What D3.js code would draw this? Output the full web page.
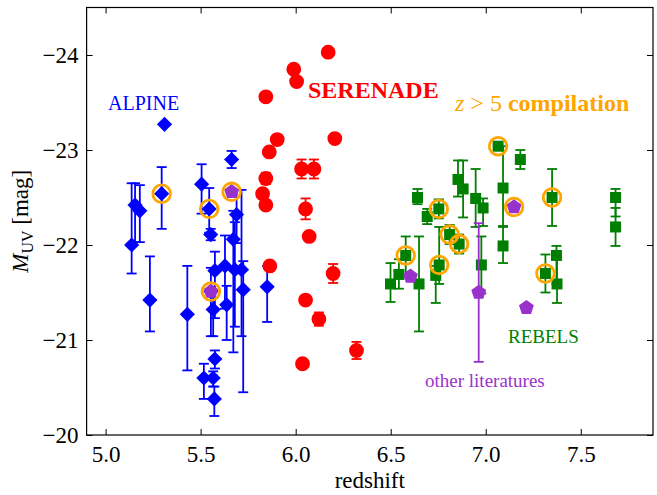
<!DOCTYPE html>
<html>
<head>
<meta charset="utf-8">
<script src="https://cdn.jsdelivr.net/npm/d3@7"></script>
<style>
  body { margin: 0; background: #fff; }
  text { font-family: "Liberation Serif", "Times New Roman", serif; }
</style>
</head>
<body>
<svg id="chart" width="657" height="495"></svg>
<script>
// [redshift, M_UV, error towards bright, error towards faint]
const alpine = [
  [5.137, -22.00, 0.65, 0.30], [5.155, -22.42, 0.23, 0.39], [5.180, -22.36, 0.27, 0.33],
  [5.233, -21.42, 0.46, 0.33], [5.310, -23.27, 0, 0], [5.295, -22.54, 0.28, 0.37],
  [5.430, -21.27, 0.51, 0.59], [5.505, -22.64, 0.21, 0.31], [5.545, -22.38, 0.22, 0.25],
  [5.553, -22.11, 0.06, 0.06], [5.517, -20.60, 0.15, 0.22], [5.566, -20.60, 0.07, 0.09],
  [5.572, -20.38, 0.13, 0.18], [5.575, -20.80, 0.09, 0.10], [5.554, -21.51, 0.25, 0.47],
  [5.566, -21.32, 0.20, 0.28], [5.575, -21.73, 0.20, 0.50], [5.628, -21.78, 0.32, 0.45],
  [5.637, -21.37, 0.20, 0.37], [5.663, -22.90, 0.09, 0.09], [5.689, -22.32, 0.26, 0.30],
  [5.672, -22.06, 0.30, 1.19], [5.680, -21.74, 0.50, 0.60], [5.715, -21.74, 0.84, 0.70],
  [5.724, -21.53, 0.30, 1.08], [5.850, -21.56, 0.22, 0.37]
]
const serenade = [
  [6.171, -24.03, 0, 0], [5.990, -23.85, 0, 0], [6.005, -23.72, 0, 0], [5.843, -23.56, 0, 0],
  [5.903, -23.11, 0.05, 0.05], [6.206, -23.12, 0, 0], [5.861, -22.98, 0, 0],
  [5.843, -22.70, 0.06, 0.06], [5.826, -22.54, 0, 0], [5.843, -22.42, 0, 0],
  [6.031, -22.80, 0.10, 0.10], [6.096, -22.80, 0.10, 0.10], [6.052, -22.38, 0.11, 0.11],
  [6.071, -22.09, 0, 0], [5.864, -21.78, 0, 0], [6.197, -21.70, 0.10, 0.10],
  [6.052, -21.42, 0, 0], [6.122, -21.22, 0.07, 0.07], [6.320, -20.89, 0.09, 0.09],
  [6.036, -20.75, 0, 0]
]
const rebels = [
  [6.499, -21.59, 0.22, 0.19], [6.543, -21.69, 0.16, 0.15], [6.579, -21.89, 0.20, 0.20],
  [6.641, -22.50, 0.09, 0.07], [6.649, -21.59, 0.50, 0.50], [6.692, -22.30, 0.08, 0.08],
  [6.753, -22.38, 0.10, 0.10], [6.755, -21.79, 0.40, 0.20], [6.737, -21.68, 0.10, 0.29],
  [6.810, -22.11, 0.10, 0.10], [6.860, -22.01, 0.10, 0.10], [6.854, -22.69, 0.20, 0.18],
  [6.881, -22.59, 0.30, 0.30], [6.947, -22.49, 0.31, 0.30], [6.986, -22.39, 0.10, 0.19],
  [6.977, -21.79, 0.30, 0.30], [7.065, -23.04, 0, 0], [7.091, -22.60, 0.44, 0.40],
  [7.091, -21.99, 0.20, 0.18], [7.182, -22.90, 0.10, 0.10], [7.349, -22.50, 0.30, 0.30],
  [7.314, -21.70, 0.20, 0.20], [7.372, -21.89, 0.10, 0.30], [7.375, -21.59, 0.30, 0.20],
  [7.683, -22.50, 0.09, 0.20], [7.683, -22.19, 0.20, 0.20]
]
const literature = [
  [5.663, -22.56, 0, 0], [5.554, -21.51, 0, 0], [6.604, -21.67, 0, 0],
  [6.963, -21.50, 0.73, 0.73], [7.149, -22.40, 0, 0], [7.214, -21.34, 0, 0]
]
// [redshift, M_UV] of the z > 5 compilation sources
const compilation = [
  [5.295, -22.54], [5.545, -22.38], [5.663, -22.56], [5.554, -21.51], [6.579, -21.89],
  [6.753, -22.38], [6.755, -21.79], [6.810, -22.11], [6.860, -22.01], [7.065, -23.04],
  [7.149, -22.40], [7.349, -22.50], [7.314, -21.70]
]
const xTicks = [5.0, 5.5, 6.0, 6.5, 7.0, 7.5]
const yTicks = [-24, -23, -22, -21, -20]

const margin = { top: 7.5, right: 4, bottom: 60, left: 86.6 }
const width = 657 - margin.left - margin.right
const height = 495 - margin.top - margin.bottom

const svg = d3.select('#chart')
const g = svg.append('g').attr('transform', `translate(${margin.left},${margin.top})`)

const x = d3.scaleLinear().domain([4.9, 7.88]).range([0, width])
const y = d3.scaleLinear().domain([-20, -24.5]).range([height, 0])

const fmtY = (d) => String(d).replace('-', '\u2212')

// axes, ticks pointing inward on all four sides
const styleAxis = (sel) => {
  sel.select('.domain').remove()
  sel.selectAll('.tick line').attr('stroke', '#000').attr('stroke-width', 1)
  sel.selectAll('.tick text').attr('fill', '#000').style('font-size', '23px')
    .style('font-family', '"Liberation Serif", serif')
}
g.append('g').attr('transform', `translate(0,${height})`)
  .call(d3.axisBottom(x).tickValues(xTicks).tickFormat(d3.format('.1f')).tickSizeInner(-6).tickSizeOuter(0).tickPadding(11))
  .call(styleAxis)
g.append('g')
  .call(d3.axisTop(x).tickValues(xTicks).tickFormat('').tickSizeInner(-6).tickSizeOuter(0))
  .call(styleAxis)
g.append('g')
  .call(d3.axisLeft(y).tickValues(yTicks).tickFormat(fmtY).tickSizeInner(-6).tickSizeOuter(0).tickPadding(8))
  .call(styleAxis)
g.append('g').attr('transform', `translate(${width},0)`)
  .call(d3.axisRight(y).tickValues(yTicks).tickFormat('').tickSizeInner(-6).tickSizeOuter(0))
  .call(styleAxis)
g.append('rect').attr('width', width).attr('height', height)
  .attr('fill', 'none').attr('stroke', '#000').attr('stroke-width', 1.2)

const diamond = (r) => `M0,${-r}L${r},0L0,${r}L${-r},0Z`
const square = (s) => `M${-s},${-s}H${s}V${s}H${-s}Z`
const circle = (r) => `M${r},0A${r},${r} 0 1,1 ${-r},0A${r},${r} 0 1,1 ${r},0Z`
const pentagon = (r) => 'M' + d3.range(5).map((i) => {
  const a = -Math.PI / 2 + i * 2 * Math.PI / 5
  return `${r * Math.cos(a)},${r * Math.sin(a)}`
}).join('L') + 'Z'

const drawSeries = (data, color, shape, cap) => {
  const s = g.append('g')
  const withErr = data.filter((d) => d[2] > 0 || d[3] > 0)
  const bars = s.selectAll('g.err').data(withErr).enter().append('g')
    .attr('stroke', color).attr('stroke-width', 1.8)
  bars.append('line')
    .attr('x1', (d) => x(d[0])).attr('x2', (d) => x(d[0]))
    .attr('y1', (d) => y(d[1] - d[2])).attr('y2', (d) => y(d[1] + d[3]))
  bars.append('line')
    .attr('x1', (d) => x(d[0]) - cap).attr('x2', (d) => x(d[0]) + cap)
    .attr('y1', (d) => y(d[1] - d[2])).attr('y2', (d) => y(d[1] - d[2]))
  bars.append('line')
    .attr('x1', (d) => x(d[0]) - cap).attr('x2', (d) => x(d[0]) + cap)
    .attr('y1', (d) => y(d[1] + d[3])).attr('y2', (d) => y(d[1] + d[3]))
  s.selectAll('path.mark').data(data).enter().append('path')
    .attr('class', 'mark')
    .attr('d', shape)
    .attr('transform', (d) => `translate(${x(d[0])},${y(d[1])})`)
    .attr('fill', color)
}

drawSeries(alpine, '#0000ff', diamond(7.6), 5)
drawSeries(serenade, '#ff0000', circle(7.4), 5)
drawSeries(rebels, '#007f00', square(5.5), 5)
drawSeries(literature, '#9932cc', pentagon(7.8), 5)

g.append('g').selectAll('circle').data(compilation).enter().append('circle')
  .attr('cx', (d) => x(d[0])).attr('cy', (d) => y(d[1])).attr('r', 8.8)
  .attr('fill', 'none').attr('stroke', '#ffa500').attr('stroke-width', 2.8)

// labels
svg.append('text').attr('x', 108).attr('y', 110).attr('fill', '#0000ff')
  .style('font-size', '20px').text('ALPINE')
svg.append('text').attr('x', 308).attr('y', 98).attr('fill', '#ff0000')
  .style('font-size', '24px').style('font-weight', 'bold').text('SERENADE')
const comp = svg.append('text').attr('x', 455).attr('y', 111).attr('fill', '#ffa500')
  .style('font-size', '24px').style('font-weight', 'bold')
comp.append('tspan').style('font-style', 'italic').style('font-weight', 'normal').text('z')
comp.append('tspan').style('font-weight', 'normal').text(' > 5 ')
comp.append('tspan').text('compilation')
svg.append('text').attr('x', 508).attr('y', 343).attr('fill', '#007f00')
  .style('font-size', '19px').text('REBELS')
svg.append('text').attr('x', 425).attr('y', 387).attr('fill', '#9932cc')
  .style('font-size', '19px').text('other literatures')

svg.append('text').attr('x', margin.left + width / 2).attr('y', 488)
  .attr('text-anchor', 'middle').style('font-size', '23px').text('redshift')
const yl = svg.append('text').attr('transform', `translate(28,${margin.top + height / 2}) rotate(-90)`)
  .attr('text-anchor', 'middle').style('font-size', '23px')
yl.append('tspan').style('font-style', 'italic').text('M')
yl.append('tspan').attr('dy', 5).style('font-size', '16px').text('UV')
yl.append('tspan').attr('dy', -5).text(' [mag]')
</script>
</body>
</html>
